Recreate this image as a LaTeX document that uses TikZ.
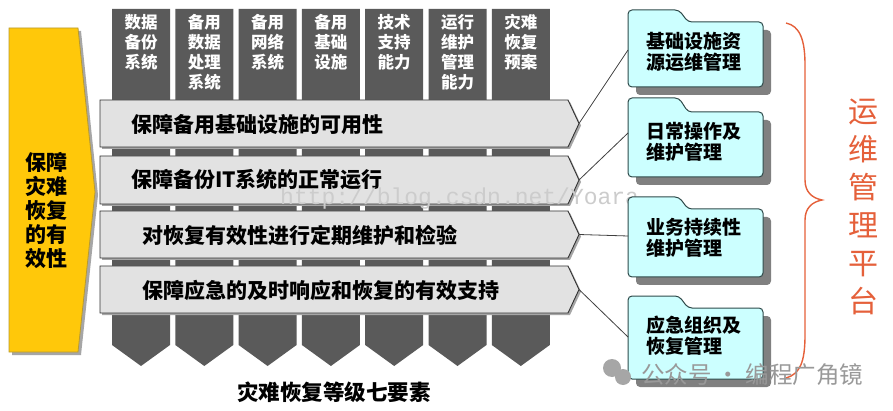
\documentclass[tikz,border=0pt]{standalone}
\usepackage{fontspec}
\setmainfont{Noto Sans CJK SC}
\newfontfamily\wmfont{Liberation Mono}
\definecolor{colgray}{HTML}{5A5A5A}
\definecolor{bargray}{HTML}{E2E2E2}
\definecolor{ygold}{HTML}{FFC80A}
\definecolor{yedge}{HTML}{B89A30}
\definecolor{cyanbox}{HTML}{CCFFFF}
\definecolor{boxedge}{HTML}{2F4A4A}
\definecolor{redtxt}{HTML}{E5603A}
\tikzset{
  colshape/.style={fill=colgray, draw=none},
  coltext/.style={text=white, font=\fontsize{16.5}{20}\selectfont\bfseries, align=center, anchor=north, inner sep=0pt},
  barshape/.style={fill=bargray, draw=black!80, line width=0.9pt},
  barshadow/.style={fill=black!35, draw=none},
  bartext/.style={font=\fontsize{21}{24}\selectfont\bfseries, anchor=west, inner sep=0pt},
  foldershape/.style={fill=cyanbox, draw=boxedge, line width=1pt, rounded corners=4pt},
  foldershadow/.style={fill=black!50, draw=none, rounded corners=4pt},
  boxtext/.style={font=\fontsize{19}{21}\selectfont\bfseries, align=left, anchor=west, inner sep=0pt},
  link/.style={draw=black!75, line width=0.8pt},
}
\begin{document}
\begin{tikzpicture}[x=1pt,y=-1pt]
\useasboundingbox (0,0) rectangle (893,411);
\fill[white] (0,0) rectangle (893,411);

% seven columns
\foreach \i/\t in {0/{数据\\备份\\系统},1/{备用\\数据\\处理\\系统},2/{备用\\网络\\系统},3/{备用\\基础\\设施},4/{技术\\支持\\能力},5/{运行\\维护\\管理\\能力},6/{灾难\\恢复\\预案}}{
  \pgfmathsetmacro{\cx}{141+63.3*\i}
  \fill[colshape] (\cx-29,9) -- (\cx+29,9) -- (\cx+29,345) -- (\cx,366) -- (\cx-29,345) -- cycle;
  \node[coltext] (col\i) at (\cx,14) {\t};
}

% yellow arrow
\fill[black!35] (12,31) -- (81,31) -- (98,195) -- (81,355) -- (12,355) -- cycle;
\draw[fill=ygold, draw=yedge, line width=0.8pt] (9,28) -- (78,28) -- (95,192) -- (78,352) -- (9,352) -- cycle;
\node[font=\fontsize{21}{24}\selectfont\bfseries, align=center, inner sep=0pt] (goal) at (46,210) {保障\\灾难\\恢复\\的有\\效性};

% bars
\foreach \n/\top/\bot in {1/100/147,2/156/204,3/211/258,4/266/313}{
  \pgfmathsetmacro{\mid}{(\top+\bot)/2}
  \fill[barshadow] (102,\top+2) -- (570,\top+2) -- (581,\mid+2) -- (570,\bot+2) -- (102,\bot+2) -- cycle;
  \draw[barshape] (100,\top) -- (568,\top) -- (579,\mid) -- (568,\bot) -- (100,\bot) -- cycle;
  \coordinate (tip\n) at (579,\mid);
}
\node[bartext] (b1) at (131,124) {保障备用基础设施的可用性};
\node[bartext] (b2) at (131,180) {保障备份IT系统的正常运行};
\node[bartext] (b3) at (142,235) {对恢复有效性进行定期维护和检验};
\node[bartext] (b4) at (142,290) {保障应急的及时响应和恢复的有效支持};

% watermark
\node[font=\wmfont\fontsize{23}{24}\selectfont, text=black!20, anchor=west, inner sep=0pt] (wm) at (280,199) {http://blog.csdn.net/Yoara};

% folders
\foreach \n/\T/\M/\B in {1/10/22/87,2/98/112/177,3/197/209/277,4/296/308/379}{
  \fill[foldershadow] (636,\B+8) -- (636,\M+8) -- (771,\M+8) -- (771,\B+8) -- cycle;
  \draw[foldershape] (628,\B) -- (628,\T) -- (679,\T) -- (688,\M) -- (763,\M) -- (763,\B) -- cycle;
  \coordinate (box\n) at (628,{(\M+\B)/2});
}
\coordinate (in1) at (628,50);
\coordinate (in2) at (628,133);
\coordinate (in3) at (628,236);
\coordinate (in4) at (628,337);
\node[boxtext] (t1) at (646,52) {基础设施资\\源运维管理};
\node[boxtext] (t2) at (646,142) {日常操作及\\维护管理};
\node[boxtext] (t3) at (646,238) {业务持续性\\维护管理};
\node[boxtext] (t4) at (646,336) {应急组织及\\恢复管理};

% connectors
\draw[link] (tip1) -- (in1);
\draw[link] (tip2) -- (in2);
\draw[link] (tip3) -- (in3);
\draw[link] (tip4) -- (in4);

% brace
\draw[redtxt, line width=1.4pt] (786,23) .. controls (800,26) and (805,40) .. (805,65)
  -- (805,180) .. controls (805,192) and (812,198) .. (822,200)
  .. controls (812,202) and (805,208) .. (805,220)
  -- (805,335) .. controls (805,362) and (800,374) .. (786,378);
\node[text=redtxt, font=\fontsize{30}{38}\selectfont, align=center, inner sep=0pt] (plat) at (863,207) {运\\维\\管\\理\\平\\台};

% bottom title
\node[font=\fontsize{21.5}{24}\selectfont\bfseries, inner sep=0pt] (title) at (334,392) {灾难恢复等级七要素};

% wechat mark
\fill[black!35] (612,368) circle (9);
\fill[black!35] (623,377) circle (8);
\node[text=black!40, font=\fontsize{23.5}{26}\selectfont, anchor=west, inner sep=0pt] (wx) at (641,375) {公众号 · 编程广角镜};
\end{tikzpicture}
\end{document}
